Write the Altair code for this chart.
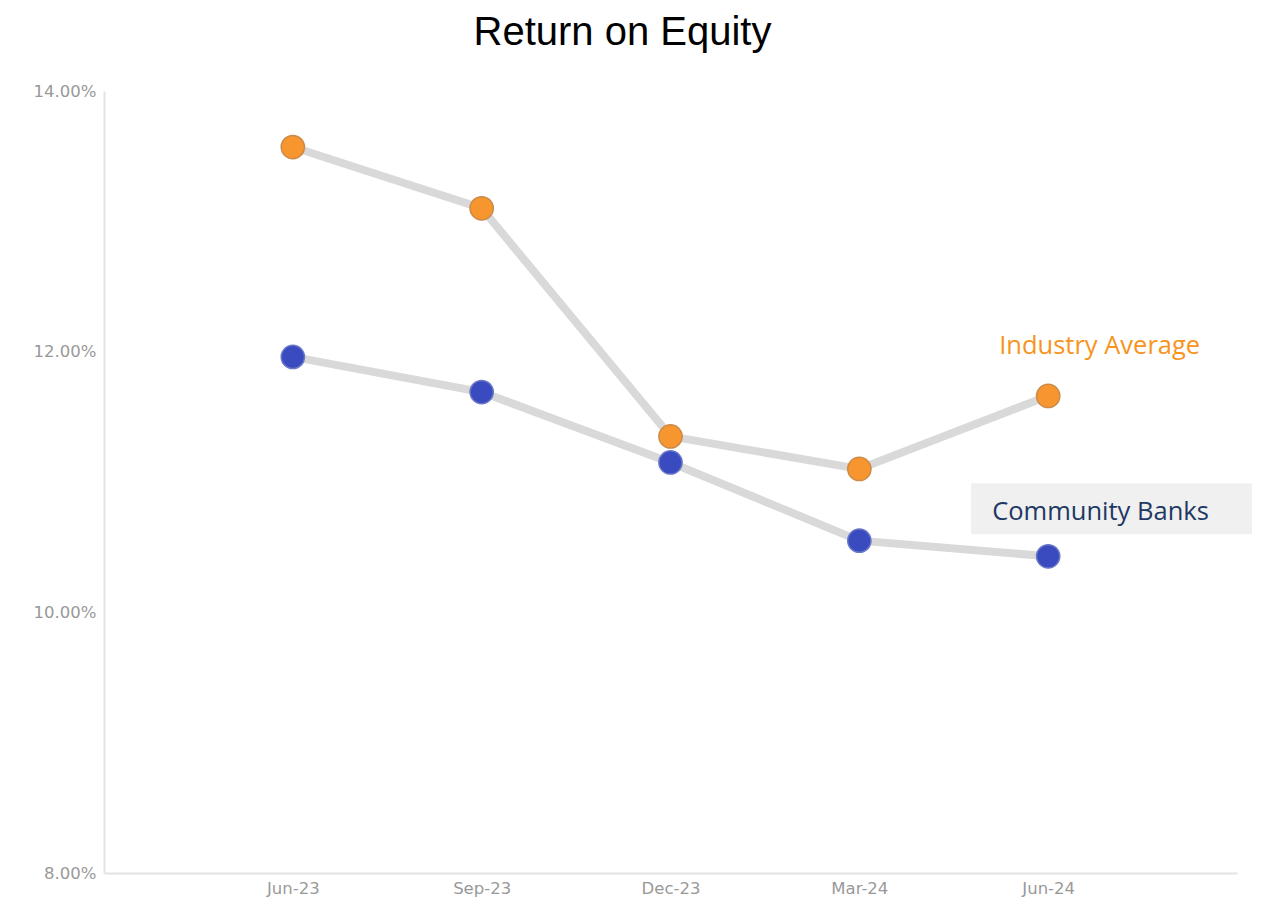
import altair as alt
import pandas as pd

quarters = ["Jun-23", "Sep-23", "Dec-23", "Mar-24", "Jun-24"]
industry_avg = [13.57, 13.10, 11.35, 11.10, 11.66]
community_banks = [11.96, 11.69, 11.15, 10.55, 10.43]
series_names = ["Industry Average", "Community Banks"]
y_ticks = [8, 10, 12, 14]

df = pd.DataFrame({
    "quarter": quarters * 2,
    "roe": industry_avg + community_banks,
    "series": [series_names[0]] * 5 + [series_names[1]] * 5,
})

x_enc = alt.X("quarter:N", sort=quarters,
              scale=alt.Scale(type="point", padding=1),
              axis=alt.Axis(title=None, labelAngle=0, ticks=False, domainColor="#e3e3e3",
                            domainWidth=2, labelColor="#999999", labelFont="DejaVu Sans",
                            labelFontSize=16.5, labelPadding=7))
y_enc = alt.Y("roe:Q", scale=alt.Scale(domain=[8, 14], nice=False, zero=False),
              axis=alt.Axis(title=None, values=y_ticks, grid=False, ticks=False,
                            domainColor="#e3e3e3", domainWidth=2,
                            labelColor="#999999", labelFont="DejaVu Sans", labelFontSize=16.5,
                            labelPadding=8,
                            labelExpr="format(datum.value, '.2f') + '%'"))

lines = alt.Chart(df).mark_line(color="#d9d9d9", strokeWidth=8).encode(
    x=x_enc, y=y_enc, detail="series:N")

points = alt.Chart(df).mark_point(filled=True, size=540, opacity=1, strokeWidth=1.5).encode(
    x=x_enc, y=y_enc,
    fill=alt.Fill("series:N", scale=alt.Scale(domain=series_names, range=["#f7962e", "#3a4bbf"]), legend=None),
    stroke=alt.Stroke("series:N", scale=alt.Scale(domain=series_names, range=["#c98a4a", "#6a78c8"]), legend=None),
)

lab_df = pd.DataFrame({"quarter": ["Jun-24"], "roe": [12.04], "text": [series_names[0]]})
lab2_df = pd.DataFrame({"quarter": ["Jun-24"], "roe": [10.77], "text": [series_names[1]]})
box_df = pd.DataFrame({"y1": [10.60], "y2": [10.99]})

label1 = alt.Chart(lab_df).mark_text(align="left", baseline="middle", dx=-49, fontSize=25.5,
                                     font="Open Sans", color="#f7941d").encode(
    x=alt.X("quarter:N", sort=quarters, scale=alt.Scale(type="point", padding=1)),
    y="roe:Q", text="text:N")

box = alt.Chart(box_df).mark_rect(color="#f0f0f0").encode(
    x=alt.value(867), x2=alt.value(1148), y="y1:Q", y2="y2:Q")

label2 = alt.Chart(lab2_df).mark_text(align="left", baseline="middle", dx=-56, fontSize=25.5,
                                      font="Open Sans", color="#1f3864").encode(
    x=alt.X("quarter:N", sort=quarters, scale=alt.Scale(type="point", padding=1)),
    y="roe:Q", text="text:N")

chart = alt.layer(box, lines, points, label1, label2).properties(
    width=1133, height=782,
    background="white",
    title=alt.TitleParams("Return on Equity", font="Liberation Sans", fontSize=40,
                          fontWeight="normal", color="#000000", anchor="middle",
                          dx=-48, offset=30),
    autosize=alt.AutoSizeParams(type="none"),
    padding={"left": 104, "top": 91, "right": 27, "bottom": 43},
).configure_view(strokeWidth=0, stroke="transparent")

chart.save("out.html", embed_options={"renderer": "svg", "actions": False})
